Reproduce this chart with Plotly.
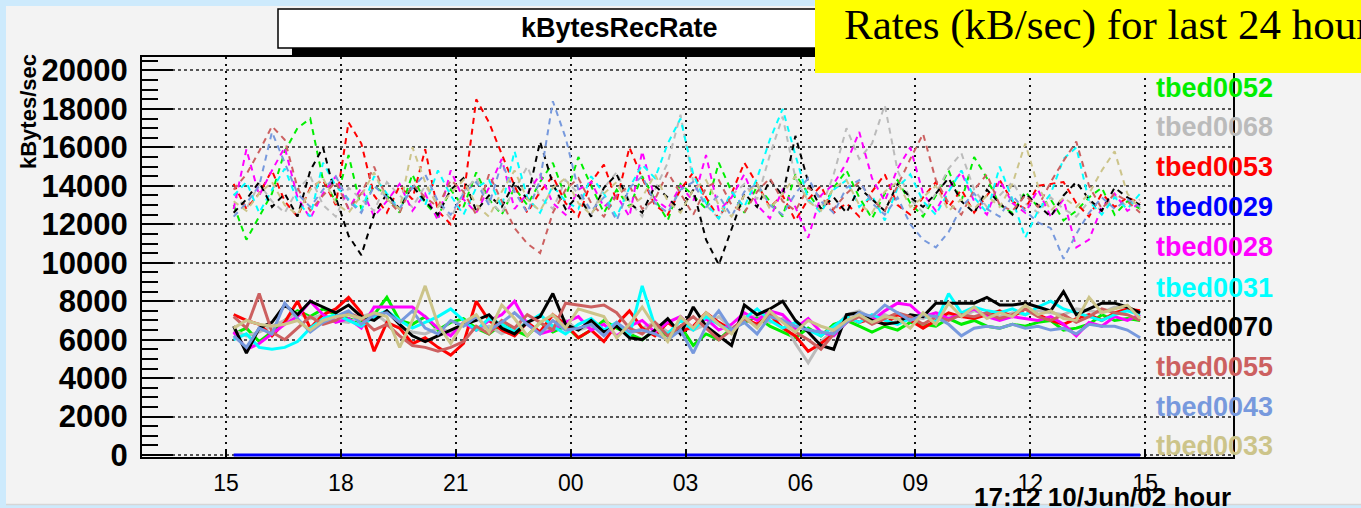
import plotly.graph_objects as go
import pandas as pd

# ---------------- data ----------------
times = pd.date_range(start="2002-06-09 15:12", periods=72, freq="20min")

hosts = ["tbed0052", "tbed0068", "tbed0053", "tbed0029", "tbed0028",
         "tbed0031", "tbed0070", "tbed0055", "tbed0043", "tbed0033"]
colors = ["#00ee00", "#bbbbbb", "#ff0000", "#0000ff", "#ff00ff",
          "#00ffff", "#000000", "#cc6060", "#7799dd", "#ccc48a"]

# upper (dashed) curves, kB/sec
hi_0052 = [13000, 11200, 12400, 13600, 15800, 17000, 17500, 14300, 13200, 15600, 12800, 14000, 13500, 12600, 14600, 13100, 12400, 13800, 12900, 14700, 13300, 12500, 13900, 13000, 14200, 15200, 13400, 15500, 14000, 12600, 13800, 12900, 14500, 13300, 12200, 14100, 13500, 12800, 15200, 13700, 12600, 14000, 13200, 12400, 14600, 13600, 12700, 13900, 14800, 13400, 12300, 13600, 14300, 13100, 12400, 13500, 14800, 13200, 15500, 14400, 13000, 12600, 13700, 12900, 13300, 12200, 12700, 13400, 13900, 12500, 13200, 12800]
hi_0068 = [13600, 12800, 14100, 13200, 12600, 13800, 14500, 13000, 12400, 13900, 13300, 12700, 14200, 13500, 12900, 14000, 13100, 12300, 13700, 14400, 13200, 12600, 13800, 15000, 13400, 12800, 14300, 13600, 12500, 13900, 14700, 13200, 12400, 13800, 15200, 17700, 14200, 13000, 12300, 13500, 14100, 13300, 15600, 17600, 14400, 13200, 12800, 14600, 17000, 15400, 16200, 18200, 14800, 13300, 12600, 13600, 14900, 15700, 13800, 12900, 13500, 14200, 13100, 12600, 13400, 12800, 12400, 13200, 12700, 13500, 12900, 13300]
hi_0053 = [14100, 12800, 13600, 14800, 13200, 12400, 13900, 14300, 13000, 17300, 16200, 13500, 12600, 14000, 13300, 15900, 12700, 12000, 13400, 18500, 17300, 15600, 14000, 12600, 13700, 14500, 13100, 12400, 14200, 15100, 13200, 16000, 14400, 13000, 12500, 13800, 14700, 13400, 12300, 13600, 15200, 14100, 12900, 13500, 12200, 13300, 14000, 12600, 13100, 12400, 13700, 14600, 13000, 12500, 13400, 14200, 12900, 13800, 12600, 13500, 14300, 13200, 12800, 14000, 14100, 14200, 13100, 12400, 13600, 12900, 13400, 13100]
hi_0029 = [0] * 72
hi_0028 = [12800, 15900, 13500, 14800, 16000, 13400, 12300, 13600, 14500, 12800, 13900, 12400, 13200, 14100, 12700, 13600, 12200, 14800, 13300, 12600, 13900, 15400, 12800, 13600, 14600, 13100, 12500, 13800, 14200, 12900, 13500, 12400, 15800, 13300, 12800, 14000, 13200, 15600, 12700, 13400, 14600, 13000, 12300, 13800, 12900, 11300, 13500, 14100, 15200, 16800, 14400, 13200, 14900, 16000, 13600, 12700, 13900, 14700, 13200, 12500, 14300, 13100, 12600, 13800, 12400, 13300, 10800, 11200, 12900, 13600, 12700, 13100]
hi_0031 = [13500, 14200, 12600, 13800, 14900, 13200, 12400, 15200, 14000, 13300, 12700, 14500, 13600, 12800, 14100, 13000, 14800, 13500, 12500, 13900, 14300, 12900, 15800, 13400, 12600, 14000, 13200, 12800, 14500, 13600, 12400, 13900, 15100, 14400, 16200, 17500, 14600, 13100, 12300, 13700, 12900, 14400, 16400, 18000, 15600, 13300, 12600, 13800, 14300, 12900, 13500, 12200, 13900, 14600, 13200, 12500, 13700, 14800, 13400, 12600, 15000, 13300, 11300, 12700, 13600, 15400, 16000, 13200, 12500, 13400, 12800, 13600]
hi_0070 = [12600, 13300, 14200, 12900, 13600, 12400, 14800, 16000, 13400, 11400, 10400, 12500, 13600, 12800, 14000, 13200, 12500, 13800, 14400, 12700, 13500, 12900, 14200, 13300, 16300, 14100, 12800, 13500, 12400, 13900, 14600, 13100, 12600, 14000, 13400, 12700, 13800, 11200, 9900, 11800, 13600, 12900, 14300, 13500, 16600, 14200, 12800, 13400, 12600, 13900, 13300, 12700, 14100, 13400, 12900, 13600, 14400, 13200, 12600, 13800, 13100, 12500, 13600, 13000, 12400, 13500, 14200, 13300, 12700, 13900, 13400, 13000]
hi_0055 = [13800, 14600, 15800, 17100, 16400, 13900, 12700, 13500, 14200, 12800, 13600, 15000, 13300, 12600, 14100, 13400, 12900, 14300, 13700, 12500, 14600, 13200, 11800, 11000, 10500, 12600, 13800, 14400, 13100, 12400, 13500, 14000, 12800, 13300, 14700, 13600, 12500, 13900, 14300, 13000, 12600, 13700, 14400, 13200, 12700, 13900, 13400, 12800, 13600, 14200, 13300, 12700, 14000, 15400, 16700, 14300, 13100, 12500, 13800, 14600, 13000, 12700, 13500, 12900, 14200, 15300, 16300, 14000, 12800, 13600, 13200, 12600]
hi_0043 = [12400, 13100, 14000, 16800, 15200, 13600, 12900, 13800, 14500, 13200, 12600, 14000, 13400, 12800, 13900, 14600, 13200, 12500, 13600, 14200, 13000, 15200, 13700, 12600, 14300, 18400, 16500, 13800, 12700, 13400, 12200, 13900, 14500, 13100, 12600, 13800, 14200, 12900, 13500, 12400, 13700, 14100, 13000, 12500, 13600, 14400, 13200, 12600, 13900, 14300, 13100, 12500, 13400, 12000, 11200, 10800, 11600, 12900, 13600, 12800, 12400, 13500, 12700, 12100, 11800, 10200, 11500, 12600, 13400, 12800, 13300, 12900]
hi_0033 = [13200, 12700, 13600, 14200, 13000, 12500, 13800, 14400, 13100, 12600, 13500, 14700, 13300, 12800, 16000, 14200, 12900, 13600, 14300, 13000, 12400, 13700, 14800, 13300, 12700, 13900, 14400, 13100, 12500, 13600, 14200, 12900, 13400, 14600, 13200, 12600, 13800, 14300, 13000, 12400, 13500, 14100, 12800, 13600, 14500, 13200, 12700, 13900, 14300, 13000, 12600, 13700, 14200, 12900, 13400, 14000, 12700, 13300, 12800, 13500, 12900, 14100, 16200, 14000, 12700, 13400, 12900, 13600, 14800, 15800, 13600, 12800]

# lower (solid) curves, kB/sec
lo_0052 = [6300, 6600, 5900, 6400, 7000, 7500, 7200, 7600, 7300, 7100, 6900, 7300, 8200, 7000, 6800, 7200, 6500, 6900, 7100, 6600, 6300, 6800, 6500, 6200, 6900, 6400, 6700, 6100, 6500, 7000, 6600, 6300, 6000, 6500, 6200, 6700, 5700, 6300, 6000, 6600, 6900, 7200, 6700, 6400, 6100, 6600, 6200, 6800, 7000, 6700, 6400, 6700, 6500, 6900, 6800, 6700, 7100, 6800, 7000, 6700, 6600, 6800, 6700, 6900, 7000, 6500, 6600, 6800, 7300, 7000, 7100, 7000]
lo_0068 = [6500, 6200, 6400, 6700, 7000, 7400, 7100, 7300, 7000, 6900, 7200, 7400, 6900, 6600, 6400, 6300, 6600, 6400, 6800, 6500, 6700, 6300, 6600, 6900, 6400, 6700, 7000, 6500, 6700, 6400, 6800, 6300, 6600, 6900, 6400, 6700, 6500, 6800, 7200, 6600, 7000, 7300, 6900, 7100, 5800, 4800, 5900, 6500, 7300, 7500, 7100, 7300, 7000, 7200, 7100, 7400, 7300, 7200, 7500, 7300, 7200, 7400, 7300, 7500, 7400, 7300, 7600, 7500, 7400, 7700, 7600, 7400]
lo_0053 = [7300, 7000, 6800, 6200, 6900, 8000, 6600, 7300, 7600, 8200, 7400, 5400, 6900, 6600, 5800, 6100, 5600, 5200, 5800, 8000, 7000, 6500, 6200, 6900, 6400, 7300, 6800, 6100, 6500, 5900, 6800, 7500, 6600, 6200, 6900, 6400, 6700, 7400, 6900, 6500, 7100, 6800, 7300, 6600, 6200, 5400, 5800, 6300, 7200, 6900, 7100, 6800, 7300, 7000, 6600, 7000, 7400, 7200, 7100, 7300, 7500, 7200, 7600, 7300, 7000, 6800, 7100, 7300, 7000, 7400, 7600, 7500]
lo_0029 = [0] * 72
lo_0028 = [6400, 5500, 5800, 6300, 6800, 7200, 8000, 7300, 6900, 7100, 6600, 7700, 7700, 7700, 7700, 7200, 6600, 6200, 6900, 6500, 7000, 7300, 8000, 6800, 6300, 6500, 6900, 7200, 6500, 6800, 6200, 6700, 7000, 6400, 6900, 7200, 6600, 7100, 6500, 6800, 7400, 7000, 7500, 7300, 6600, 7100, 6400, 6200, 6900, 7300, 7000, 7500, 7900, 7800, 7200, 7400, 7100, 7300, 7600, 7200, 7000, 7200, 7100, 7000, 7200, 6800, 6200, 6900, 6700, 7200, 7000, 7300]
lo_0031 = [6000, 6300, 5600, 5500, 5600, 5900, 6600, 7100, 7300, 7000, 6700, 7200, 7500, 7000, 6600, 6900, 7200, 7600, 7000, 6500, 7100, 6800, 6400, 6900, 7300, 6700, 6300, 6800, 7100, 6500, 6900, 6200, 8800, 6700, 6300, 7000, 6500, 7200, 6800, 6400, 7100, 7600, 7000, 6600, 6900, 6500, 6200, 6700, 7200, 6900, 7300, 7000, 6800, 7100, 7300, 6900, 8400, 7400, 7700, 7500, 7400, 7600, 7300, 7700, 8000, 7600, 7400, 7200, 7000, 7300, 7500, 7300]
lo_0070 = [6700, 5300, 6600, 6900, 7800, 7300, 8000, 7700, 7400, 7800, 7200, 7000, 7500, 6800, 6200, 5900, 6200, 6500, 6800, 7000, 7300, 6600, 6300, 6900, 7200, 8400, 6800, 6500, 7000, 6400, 6700, 6100, 6000, 6500, 7100, 6300, 7700, 6700, 6200, 5700, 7800, 7300, 7600, 8000, 7000, 6400, 5700, 5500, 7300, 7400, 7000, 6800, 6900, 7300, 7200, 7900, 7900, 7900, 7900, 8200, 7800, 7800, 7900, 7700, 7500, 8500, 7300, 7600, 7900, 7900, 7700, 7400]
lo_0055 = [7200, 6600, 8400, 6400, 6000, 6600, 7200, 6800, 7000, 7400, 7100, 6500, 6800, 6200, 5700, 5600, 5400, 5600, 5900, 6700, 6300, 7000, 6600, 7300, 6900, 6500, 7900, 7800, 7700, 7800, 7400, 6600, 6300, 6900, 6200, 6700, 7200, 6600, 6000, 6500, 7100, 6700, 7300, 7000, 6400, 6000, 5500, 6300, 6900, 7200, 6800, 7100, 7400, 7200, 6800, 7200, 7000, 7300, 7200, 7400, 7100, 7300, 7600, 7200, 7000, 7300, 6900, 7200, 7600, 7400, 7300, 7000]
lo_0043 = [6200, 5600, 6600, 6300, 7900, 7100, 6400, 6900, 7200, 7500, 6800, 7300, 7400, 6900, 7500, 6600, 6300, 7000, 6700, 7200, 6500, 6900, 7400, 6800, 6300, 7000, 6500, 6600, 6800, 6200, 6900, 6400, 6500, 6300, 6000, 6500, 5300, 6700, 7500, 6500, 6900, 6300, 7200, 7000, 6700, 6500, 6400, 6300, 6900, 7400, 7200, 7800, 7400, 7000, 7300, 7200, 6800, 6200, 6600, 6700, 6600, 6800, 6600, 6700, 6500, 6600, 6300, 6800, 6700, 6700, 6500, 6100]
lo_0033 = [6600, 7000, 6800, 6700, 6800, 7000, 6500, 7000, 7200, 7300, 7100, 7400, 7200, 5600, 7000, 8800, 6800, 5800, 6900, 7300, 6400, 7800, 7100, 6200, 6900, 7300, 6600, 7600, 7400, 7200, 6100, 6800, 7700, 6700, 5900, 7200, 6600, 7400, 6800, 6300, 7200, 6600, 7500, 6900, 6400, 7000, 6700, 6500, 7000, 7300, 6900, 7200, 7100, 6600, 7400, 6800, 7900, 7200, 7700, 7100, 7400, 7200, 7800, 7300, 7500, 7100, 7000, 8200, 7400, 7600, 7800, 7100]

hi_series = [hi_0052, hi_0068, hi_0053, hi_0029, hi_0028, hi_0031, hi_0070, hi_0055, hi_0043, hi_0033]
lo_series = [lo_0052, lo_0068, lo_0053, lo_0029, lo_0028, lo_0031, lo_0070, lo_0055, lo_0043, lo_0033]

y_ticks = list(range(0, 20001, 2000))
y_labels = [str(v) for v in y_ticks]

# ---------------- figure ----------------
W, H = 1361, 508
L, R, T, B = 142, 128, 57, 51
PW, PH = W - L - R, H - T - B

def px(x):
    return (x - L) / PW

def py(y):
    return (H - B - y) / PH

fig = go.Figure()

for name, col, ys in zip(hosts, colors, hi_series):
    if name == "tbed0029":
        continue
    fig.add_trace(go.Scatter(x=times, y=ys, mode="lines", name=name,
                             line=dict(color=col, width=2, dash="6px,5px"),
                             showlegend=False))
for name, col, ys in zip(hosts, colors, lo_series):
    if name == "tbed0029":
        continue
    fig.add_trace(go.Scatter(x=times, y=ys, mode="lines", name=name,
                             line=dict(color=col, width=3),
                             showlegend=False))
# tbed0029 (zero rate) on top
fig.add_trace(go.Scatter(x=times, y=lo_0029, mode="lines", name="tbed0029",
                         line=dict(color="#0000ff", width=3), showlegend=False))

shapes = [
    # grey canvas
    dict(type="rect", xref="paper", yref="paper", x0=px(6), x1=px(1400),
         y0=py(504), y1=py(6), fillcolor="#f3f3f3", line=dict(width=0), layer="below"),
    # title shadow
    dict(type="rect", xref="paper", yref="paper", x0=px(292), x1=px(974),
         y0=py(57), y1=py(18), fillcolor="#000000", line=dict(width=0), layer="above"),
    # title box
    dict(type="rect", xref="paper", yref="paper", x0=px(278), x1=px(960),
         y0=py(48), y1=py(9), fillcolor="#ffffff", line=dict(color="#000000", width=1.5),
         layer="above"),
    # yellow label box
    dict(type="rect", xref="paper", yref="paper", x0=px(815), x1=px(1400),
         y0=py(73), y1=py(-5), fillcolor="#ffff00", line=dict(width=0), layer="above"),
    # bottom edge line
    dict(type="line", xref="paper", yref="paper", x0=px(6), x1=px(1400),
         y0=py(504.5), y1=py(504.5), line=dict(color="#d6d6d6", width=1.5), layer="above"),
]

annotations = [
    dict(text="kBytesRecRate", x=px(619), y=py(28), xref="paper", yref="paper",
         showarrow=False, xanchor="center", yanchor="middle",
         font=dict(family="Liberation Sans", size=27, color="#000000", weight="bold")),
    dict(text="Rates (kB/sec) for last 24 hours", x=px(842), y=py(25), xref="paper", yref="paper",
         showarrow=False, xanchor="left", yanchor="middle",
         font=dict(family="Liberation Serif", size=43, color="#000000")),
    dict(text="17:12 10/Jun/02 hour", x=px(1102), y=py(497), xref="paper", yref="paper",
         showarrow=False, xanchor="center", yanchor="middle",
         font=dict(family="Liberation Sans", size=26, color="#000000", weight="bold")),
    dict(text="kBytes/sec", x=px(29), y=py(112), xref="paper", yref="paper",
         showarrow=False, xanchor="center", yanchor="middle", textangle=-90,
         font=dict(family="Liberation Sans", size=22, color="#000000", weight="bold")),
]
leg_y = [88, 127, 167, 207, 247, 288, 327, 367, 407, 446]
for name, col, yy in zip(hosts, colors, leg_y):
    annotations.append(dict(text=name, x=px(1154), y=py(yy), xref="paper", yref="paper",
                            showarrow=False, xanchor="left", yanchor="middle",
                            font=dict(family="Liberation Sans", size=27, color=col,
                                      weight="bold")))

fig.update_layout(
    width=W, height=H,
    margin=dict(l=L, r=R, t=T, b=B, pad=0),
    paper_bgcolor="#cdeafc",
    plot_bgcolor="rgba(0,0,0,0)",
    shapes=shapes,
    annotations=annotations,
    showlegend=False,
)

fig.update_xaxes(
    type="date",
    range=["2002-06-09 12:48:25", "2002-06-10 17:17:30"],
    tick0="2002-06-09 15:00", dtick=3 * 3600 * 1000, tickformat="%H",
    ticks="inside", ticklen=8, tickwidth=1.5, tickcolor="#000000",
    tickfont=dict(family="Liberation Sans", size=23, color="#000000"),
    ticklabelstandoff=4,
    showgrid=True, gridcolor="#111111", gridwidth=2, griddash="2px,5px",
    showline=True, linecolor="#000000", linewidth=2, mirror=True,
    zeroline=False,
)
fig.update_yaxes(
    range=[-100, 20700],
    tickmode="array", tickvals=y_ticks, ticktext=y_labels,
    ticks="inside", ticklen=31, tickwidth=2, tickcolor="#000000",
    tickfont=dict(family="Liberation Sans", size=31, color="#000000", weight="bold"),
    ticklabelstandoff=6,
    minor=dict(dtick=500, ticks="inside", ticklen=16, tickwidth=2, tickcolor="#000000",
               showgrid=False),
    showgrid=True, gridcolor="#555555", gridwidth=1.5, griddash="3px,3px",
    showline=True, linecolor="#000000", linewidth=2, mirror=True,
    zeroline=False,
)

fig.write_html("out.html", config={"displayModeBar": False},
               post_script="document.body.style.margin='0';document.body.style.padding='0';")
